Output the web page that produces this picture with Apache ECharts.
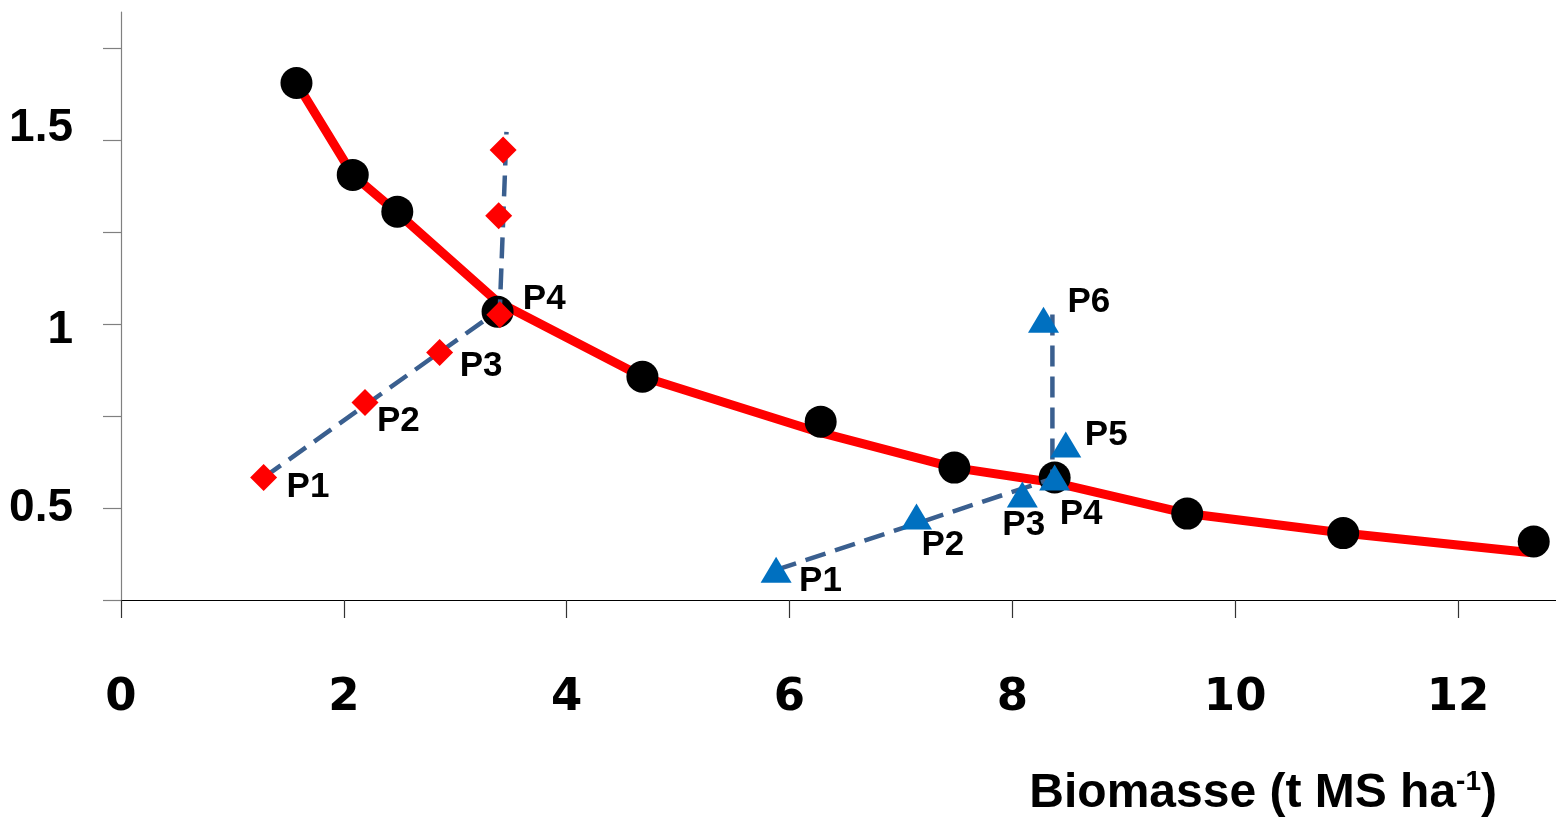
<!DOCTYPE html>
<html>
<head>
<meta charset="utf-8">
<script src="https://cdn.jsdelivr.net/npm/echarts@6/dist/echarts.min.js"></script>
<style>
  html, body { margin: 0; padding: 0; background: #fff; }
  #chart { width: 1556px; height: 822px; }
</style>
</head>
<body>
<div id="chart"></div>
<script>
// Measured biomass (t MS/ha) and N concentration, black dots
const refBiomass = [1.575, 2.08, 2.48, 3.38, 4.68, 6.28, 7.48, 8.38, 9.57, 10.97, 12.68];
const refN       = [1.656, 1.406, 1.306, 1.034, 0.857, 0.735, 0.610, 0.583, 0.485, 0.432, 0.409];

// Critical dilution curve (red)
const curveBiomass = [1.575, 2.08, 2.48, 3.38, 4.68, 6.28, 7.48, 8.38, 9.57, 10.97, 12.64];
const curveN       = [1.656, 1.406, 1.303, 1.061, 0.857, 0.705, 0.610, 0.569, 0.485, 0.432, 0.379];

// Red diamonds, sampling dates P1..P6
const diamondNames   = ['P1', 'P2', 'P3', 'P4', '', ''];
const diamondBiomass = [1.28, 2.19, 2.86, 3.40, 3.39, 3.43];
const diamondN       = [0.583, 0.787, 0.923, 1.026, 1.295, 1.474];
const diamondPathX   = [1.28, 3.40, 3.46];
const diamondPathY   = [0.583, 1.04, 1.523];

// Blue triangles, sampling dates P1..P6
const triangleNames   = ['P1', 'P2', 'P3', 'P4', 'P5', 'P6'];
const triangleBiomass = [5.88, 7.14, 8.09, 8.38, 8.48, 8.28];
const triangleN       = [0.332, 0.477, 0.537, 0.583, 0.673, 1.012];
const trianglePathX   = [5.88, 8.36, 8.36];
const trianglePathY   = [0.332, 0.58, 1.034];

// Axis ticks
const xTicks = [0, 2, 4, 6, 8, 10, 12];
const yTicks = [0.25, 0.5, 0.75, 1, 1.25, 1.5, 1.75];
// Y tick labels with their rich-text style key (nudges each label vertically)
const yTickLabels = { '0.5': '{mid|0.5}', '1': '{low|1}', '1.5': '{high|1.5}' };

// Label placement (pixels, relative to the marker centre)
const diamondLabelOffsets  = [[23, 10], [12, 19], [20, 14], [23, -15], [0, 0], [0, 0]];
const triangleLabelOffsets = [[23, 11], [5, 29], [-20, 31], [5, 37], [19, -9], [24, -17]];

const zip = (xs, ys) => xs.map((x, i) => [x, ys[i]]);

function labelled(xs, ys, names, offsets) {
  return xs.map((x, i) => ({
    value: [x, ys[i]],
    name: names[i],
    label: { show: names[i] !== '', offset: offsets[i] }
  }));
}

const pointLabel = {
  position: 'inside',
  align: 'left',
  verticalAlign: 'middle',
  formatter: p => p.name,
  color: '#000',
  fontFamily: 'Liberation Sans, Arial, sans-serif',
  fontWeight: 'bold',
  fontSize: 35
};

const dashStyle = { color: '#3A5F8F', width: 4.5, type: [21, 10] };

const yFont = { fontFamily: 'Liberation Sans, Arial, sans-serif', fontWeight: 'bold', fontSize: 46, color: '#000' };

const chart = echarts.init(document.getElementById('chart'), null, { renderer: 'canvas' });

chart.setOption({
  animation: false,
  backgroundColor: '#fff',
  grid: { left: 121, right: 0, top: 12, bottom: 222, containLabel: false },
  xAxis: {
    type: 'value',
    min: 0,
    max: 12.88,
    interval: 2,
    splitLine: { show: false },
    axisLine: { onZero: false, lineStyle: { color: '#000', width: 1.2 } },
    axisTick: { show: true, inside: false, length: 18, customValues: xTicks, lineStyle: { color: '#333', width: 1.2 } },
    axisLabel: {
      margin: 76,
      color: '#000',
      fontFamily: 'DejaVu Sans, Verdana, sans-serif',
      fontWeight: 'bold',
      fontSize: 45,
      customValues: xTicks,
      formatter: v => String(v)
    },
    name: '{b|Biomasse (t MS ha}{s|-1}{b|)}',
    nameLocation: 'end',
    nameGap: -59,
    nameTextStyle: {
      align: 'right',
      verticalAlign: 'top',
      padding: [168, 0, 0, 0],
      rich: {
        b: { fontFamily: 'Liberation Sans, Arial, sans-serif', fontWeight: 'bold', fontSize: 48, color: '#000', lineHeight: 52 },
        s: { fontFamily: 'Liberation Sans, Arial, sans-serif', fontWeight: 'bold', fontSize: 28, color: '#000', verticalAlign: 'top', lineHeight: 30 }
      }
    }
  },
  yAxis: {
    type: 'value',
    min: 0.25,
    max: 1.849,
    interval: 0.25,
    splitLine: { show: false },
    axisLine: { onZero: false, lineStyle: { color: '#808080', width: 1.2 } },
    axisTick: { show: true, inside: false, length: 18, customValues: yTicks, lineStyle: { color: '#808080', width: 1.2 } },
    axisLabel: {
      margin: 48,
      customValues: yTicks,
      formatter: v => yTickLabels[String(+v.toFixed(2))] || '',
      rich: {
        mid: Object.assign({}, yFont),
        low: Object.assign({ padding: [12, 0, 0, 0] }, yFont),
        high: Object.assign({ padding: [0, 0, 24, 0] }, yFont)
      }
    }
  },
  series: [
    {
      name: 'courbe critique',
      type: 'line',
      data: zip(curveBiomass, curveN),
      showSymbol: false,
      symbol: 'none',
      lineStyle: { color: '#FF0000', width: 9, join: 'round', cap: 'round' },
      z: 2
    },
    {
      name: 'référence',
      type: 'scatter',
      data: zip(refBiomass, refN),
      symbol: 'circle',
      symbolSize: 32,
      itemStyle: { color: '#000', opacity: 1 },
      z: 3
    },
    {
      name: 'trajet losanges',
      type: 'line',
      data: zip(diamondPathX, diamondPathY),
      showSymbol: false,
      symbol: 'none',
      lineStyle: dashStyle,
      z: 4
    },
    {
      name: 'trajet triangles',
      type: 'line',
      data: zip(trianglePathX, trianglePathY),
      showSymbol: false,
      symbol: 'none',
      lineStyle: dashStyle,
      z: 4
    },
    {
      name: 'losanges',
      type: 'scatter',
      data: labelled(diamondBiomass, diamondN, diamondNames, diamondLabelOffsets),
      symbol: 'diamond',
      symbolSize: 27,
      itemStyle: { color: '#FF0000', opacity: 1 },
      label: pointLabel,
      z: 5
    },
    {
      name: 'triangles',
      type: 'scatter',
      data: labelled(triangleBiomass, triangleN, triangleNames, triangleLabelOffsets),
      symbol: 'triangle',
      symbolSize: [31, 26],
      itemStyle: { color: '#0070C0', opacity: 1 },
      label: pointLabel,
      z: 5
    }
  ]
});
</script>
</body>
</html>
